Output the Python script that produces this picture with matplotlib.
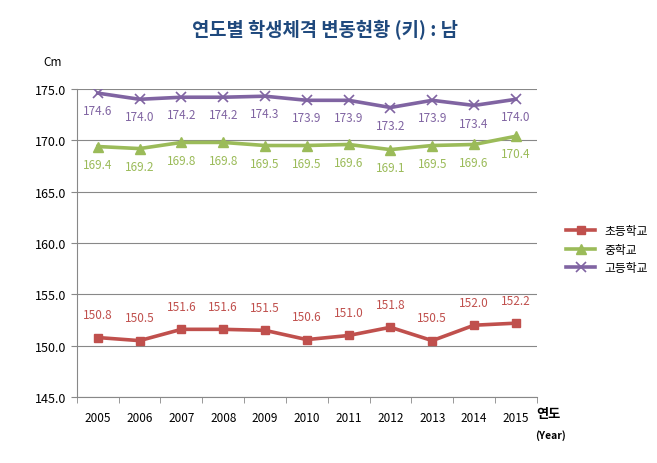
import matplotlib.pyplot as plt
import numpy as np

plt.rcParams['font.family'] = ['Noto Sans CJK KR', 'DejaVu Sans']

years = ['2005', '2006', '2007', '2008', '2009', '2010', '2011', '2012', '2013', '2014', '2015']
elem = [150.8, 150.5, 151.6, 151.6, 151.5, 150.6, 151.0, 151.8, 150.5, 152.0, 152.2]
middle = [169.4, 169.2, 169.8, 169.8, 169.5, 169.5, 169.6, 169.1, 169.5, 169.6, 170.4]
high = [174.6, 174.0, 174.2, 174.2, 174.3, 173.9, 173.9, 173.2, 173.9, 173.4, 174.0]
names = ['초등학교', '중학교', '고등학교']

fig = plt.figure(figsize=(6.57, 4.64), dpi=100)
ax = fig.add_axes([0.117, 0.142, 0.700, 0.664])

x = np.arange(len(years))
red, green, purple = '#C0504D', '#9BBB59', '#8064A2'

ax.plot(x, elem, color=red, lw=2.6, marker='s', ms=6, label=names[0])
ax.plot(x, middle, color=green, lw=2.6, marker='^', ms=7, label=names[1])
ax.plot(x, high, color=purple, lw=2.6, marker='x', ms=7, mew=1.2, label=names[2])

# data labels
for i in x:
    ax.annotate(f'{elem[i]:.1f}', (i, elem[i]), xytext=(0, 12), textcoords='offset points',
                ha='center', va='bottom', fontsize=8.5, color=red)
    ax.annotate(f'{middle[i]:.1f}', (i, middle[i]), xytext=(0, -8), textcoords='offset points',
                ha='center', va='top', fontsize=8.5, color=green)
    ax.annotate(f'{high[i]:.1f}', (i, high[i]), xytext=(0, -8), textcoords='offset points',
                ha='center', va='top', fontsize=8.5, color=purple)

ax.set_ylim(145, 175)
ax.set_xlim(-0.5, len(years) - 0.5)
ax.set_yticks(np.arange(145, 175.1, 5))
ax.set_yticklabels([f'{v:.1f}' for v in np.arange(145, 175.1, 5)], fontsize=9)
ax.set_xticks(x)
ax.set_xticklabels(years, fontsize=8.5)
ax.tick_params(axis='x', length=0, pad=10)
ax.set_xticks(np.arange(-0.5, len(years)), minor=True)
ax.tick_params(axis='x', which='minor', length=4, color='#888888', direction='out')
ax.tick_params(axis='y', length=4, color='#888888', direction='out')
ax.grid(axis='y', color='#888888', lw=0.8)
ax.set_axisbelow(True)
for s in ['top', 'right']:
    ax.spines[s].set_visible(False)
for s in ['left', 'bottom']:
    ax.spines[s].set_color('#888888')

fig.text(0.495, 0.935, '연도별 학생체격 변동현황 (키) : 남', ha='center', va='center',
         fontsize=13.5, fontweight='bold', color='#1F497D')
fig.text(0.08, 0.865, 'Cm', ha='center', va='center', fontsize=8.5)
fig.text(0.835, 0.108, '연도', ha='center', va='center', fontsize=9.5, fontweight='bold')
fig.text(0.838, 0.062, '(Year)', ha='center', va='center', fontsize=7.5, fontweight='bold')

ax.legend(loc='center left', bbox_to_anchor=(1.04, 0.48), frameon=False, fontsize=8.5,
          handlelength=2.5, labelspacing=0.45)

fig.savefig('out.png', dpi=100)
